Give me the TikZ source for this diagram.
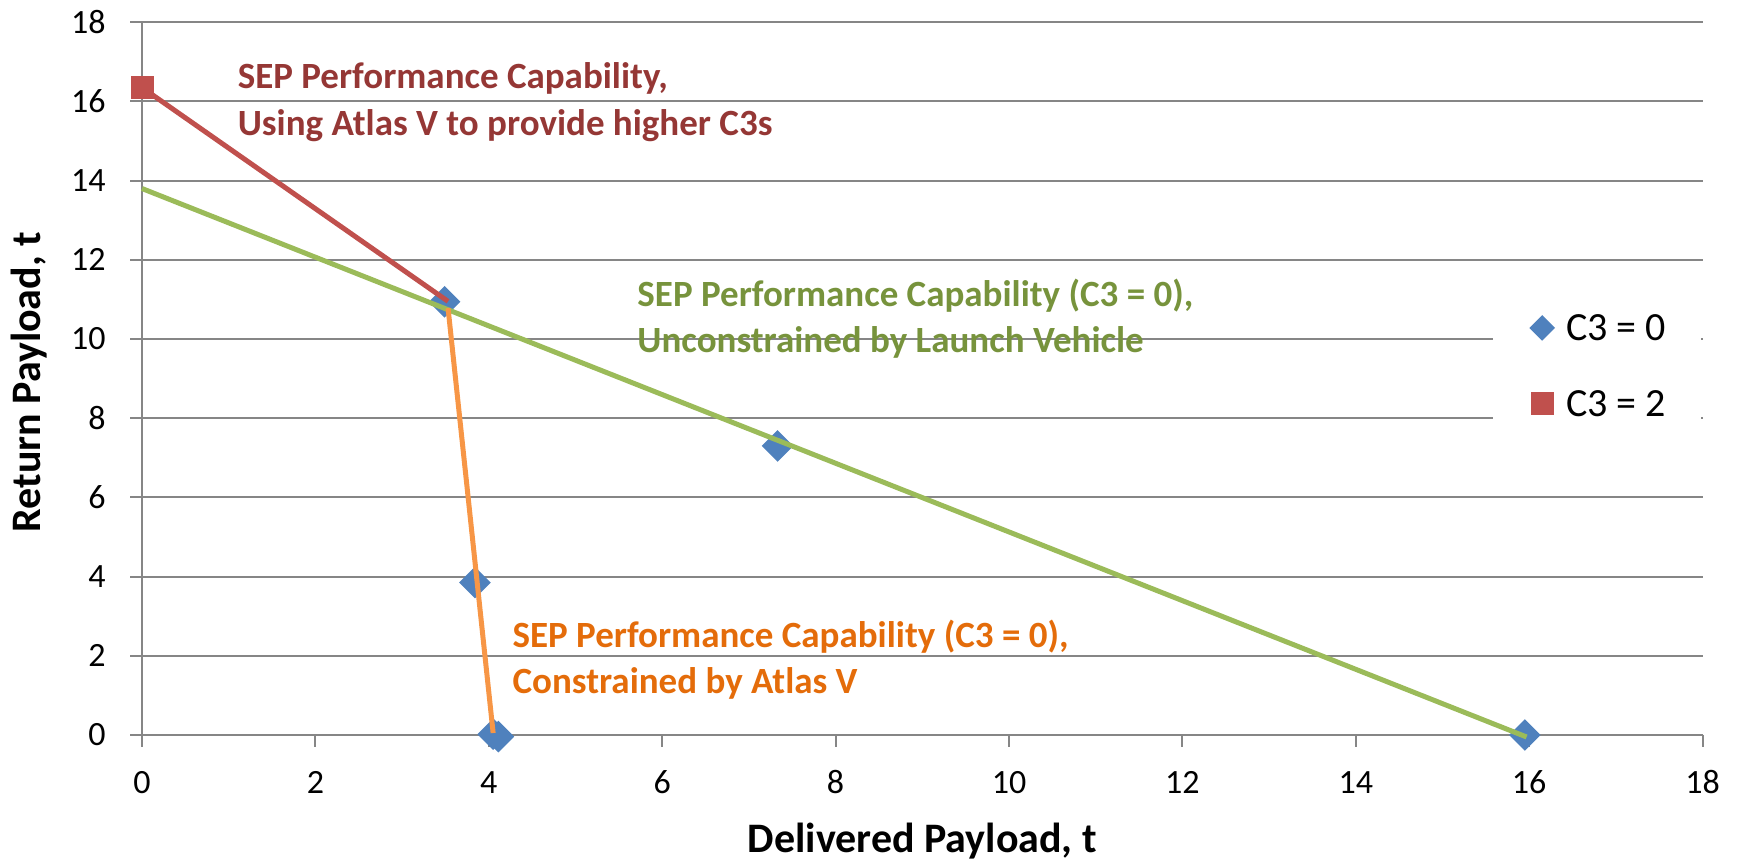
\documentclass[tikz,border=0pt]{standalone}
\usepackage{fontspec}
\setmainfont{Carlito}
\usetikzlibrary{shapes.geometric}
\definecolor{gridgray}{HTML}{868686}
\definecolor{serblue}{HTML}{4F81BD}
\definecolor{serred}{HTML}{C0504D}
\definecolor{sergreen}{HTML}{9BBB59}
\definecolor{serorange}{HTML}{F79646}
\definecolor{txtred}{HTML}{953735}
\definecolor{txtgreen}{HTML}{77933C}
\definecolor{txtorange}{HTML}{E46C0A}
\begin{document}
\begin{tikzpicture}[x=43.35pt,y=19.8pt,
  gridline/.style={gridgray,line width=1pt},
  ticklab/.style={font=\fontsize{17}{20}\selectfont,inner sep=0pt},
  axtitle/.style={font=\fontsize{21}{25}\selectfont\bfseries,inner sep=0pt},
  annot/.style={font=\fontsize{18.5}{22}\selectfont\bfseries,inner sep=0pt,anchor=base west},
  legtext/.style={font=\fontsize{20}{24}\selectfont,inner sep=0pt,anchor=west},
  diam/.style={diamond,fill=serblue,minimum width=16pt,minimum height=16pt,inner sep=0pt},
  sq/.style={rectangle,fill=serred,minimum width=11.5pt,minimum height=11.5pt,inner sep=0pt},
  series/.style={line width=2.5pt}]
\useasboundingbox (-1.638,-3.182) rectangle (18.420,18.561);
% grid
\foreach \y in {0,2,...,18} {
  \draw[gridline] (-0.138,\y) -- (18,\y);
  \node[ticklab,anchor=east] (yl\y) at (-0.415,\y) {\y};
}
\draw[gridline] (0,0) -- (0,18);
\foreach \x in {0,2,...,18} {
  \draw[gridline] (\x,0) -- (\x,-0.30);
  \node[ticklab,anchor=base] (xl\x) at (\x,-1.49) {\x};
}
% legend background
\fill[white] (15.58,11.4) rectangle (17.98,7.2);
% axis titles
\node[axtitle,rotate=90,anchor=base] (ytitle) at (-1.176,8.91) {Return Payload, t};
\node[axtitle,anchor=base] (xtitle) at (9.0,-2.955) {Delivered Payload, t};
% markers
\node[sq] (s0) at (0,16.35) {};
\node[diam] (d1) at (3.49,10.94) {};
\node[diam] (d2) at (7.33,7.30) {};
\node[diam] (d3) at (3.84,3.85) {};
\node[diam] (d4) at (4.05,0.02) {};
\node[diam] (d5) at (4.11,-0.04) {};
\node[diam] (d6) at (15.95,0) {};
% series lines
\coordinate (gstart) at (0,13.8);
\coordinate (gend) at (15.97,-0.05);
\coordinate (rend) at (3.53,10.95);
\coordinate (otop) at (3.53,10.78);
\coordinate (obot) at (4.05,0.05);
\draw[series,serred] (s0.center) -- (rend);
\draw[series,sergreen] (gstart) -- (gend);
\draw[series,serorange] (otop) -- (obot);
% annotations
\node[annot,txtred] (r1) at (1.10,16.33) {SEP Performance Capability,};
\node[annot,txtred] (r2) at (1.10,15.15) {Using Atlas V to provide higher C3s};
\node[annot,txtgreen] (g1) at (5.71,10.81) {SEP Performance Capability (C3 = 0),};
\node[annot,txtgreen] (g2) at (5.71,9.65) {Unconstrained by Launch Vehicle};
\node[annot,txtorange] (o1) at (4.27,2.22) {SEP Performance Capability (C3 = 0),};
\node[annot,txtorange] (o2) at (4.27,1.06) {Constrained by Atlas V};
% legend
\node[diam,minimum width=13pt,minimum height=13pt] (ld) at (16.15,10.28) {};
\node[legtext] (lt1) at (16.42,10.28) {C3 = 0};
\node[sq] (ls) at (16.15,8.36) {};
\node[legtext] (lt2) at (16.42,8.36) {C3 = 2};
\end{tikzpicture}
\end{document}
